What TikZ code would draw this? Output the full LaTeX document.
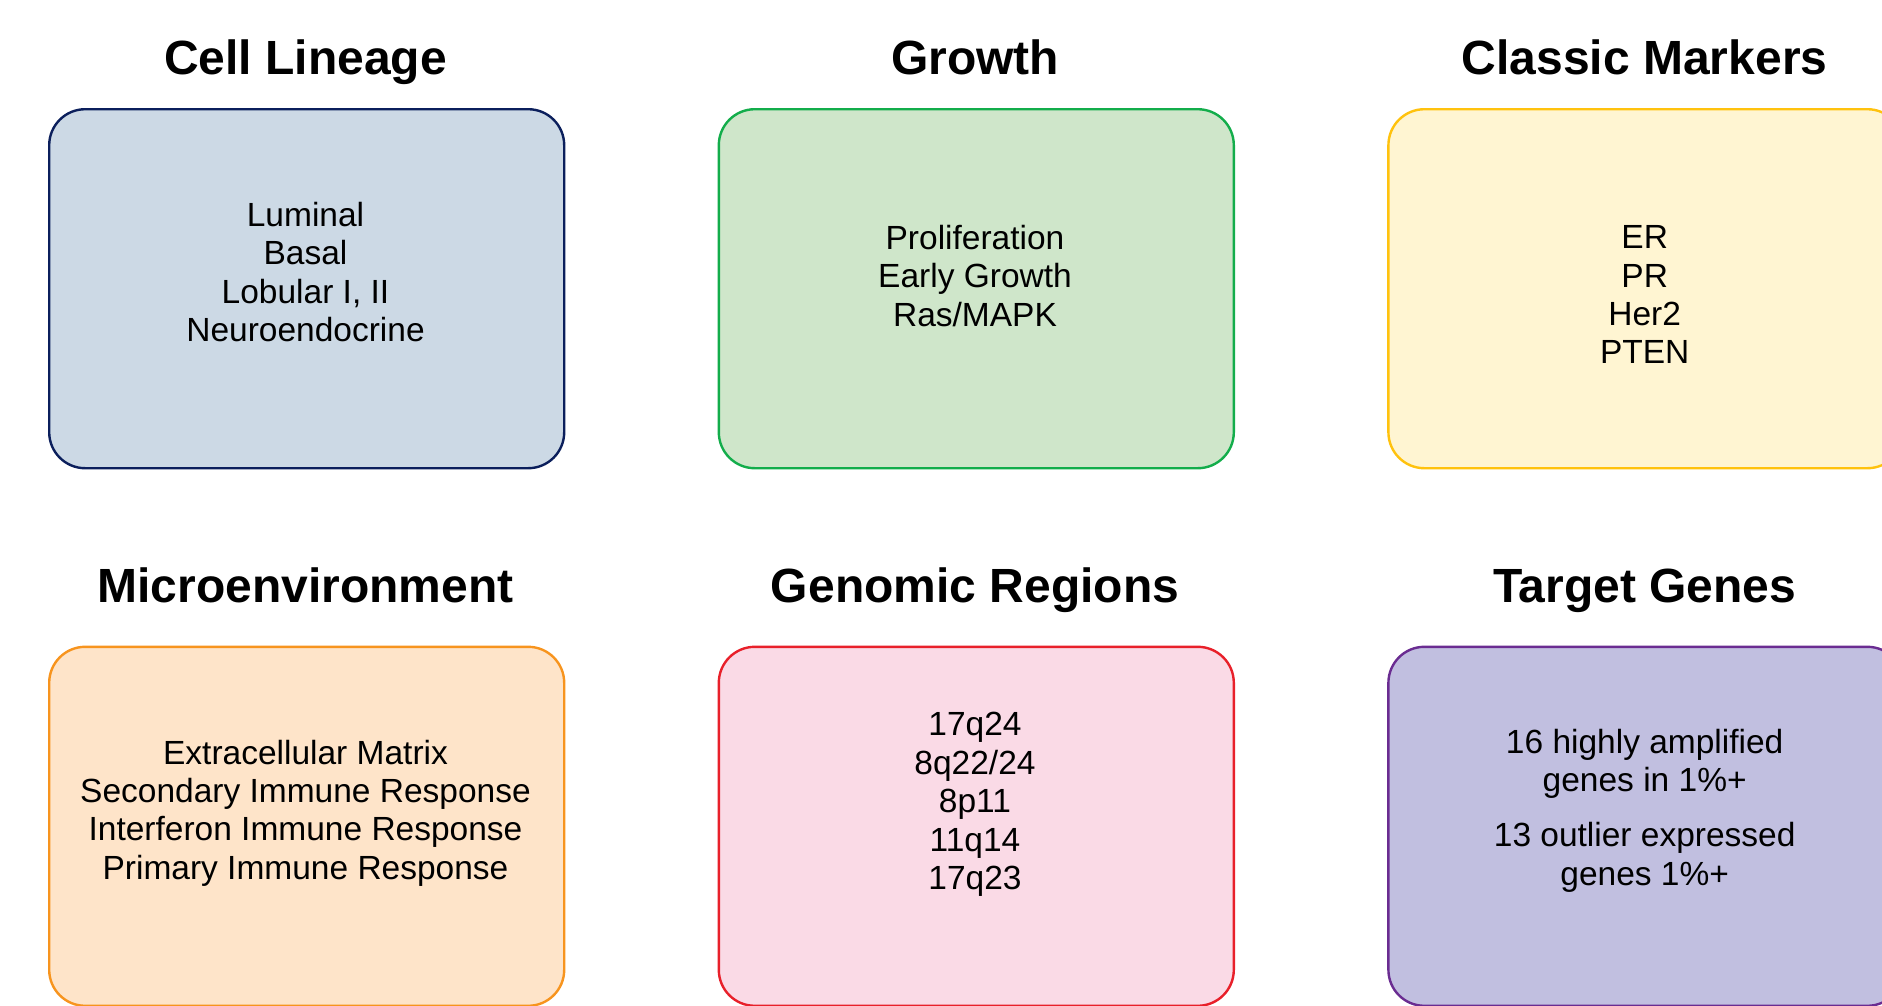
\documentclass[tikz,border=0pt]{standalone}
\usepackage{fontspec}
\setmainfont{Liberation Sans}
\begin{document}
\begin{tikzpicture}[x=1pt,y=-1pt,
  panel/.style={draw=#1, line width=2.4pt, rounded corners=36pt,
    minimum width=515pt, minimum height=359pt, inner sep=0pt, anchor=north west},
  heading/.style={font=\fontsize{48}{56}\selectfont\bfseries, anchor=base, inner sep=0pt},
  items/.style={font=\fontsize{33.5}{38.4}\selectfont, align=center, inner sep=0pt, anchor=center}]
  \definecolor{navyline}{HTML}{0B1F5C}\definecolor{navyfill}{HTML}{CCD9E5}
  \definecolor{greenline}{HTML}{13AD4B}\definecolor{greenfill}{HTML}{CFE6CA}
  \definecolor{goldline}{HTML}{FFC20E}\definecolor{goldfill}{HTML}{FFF5D2}
  \definecolor{orangeline}{HTML}{F7941E}\definecolor{orangefill}{HTML}{FEE4C9}
  \definecolor{redline}{HTML}{E8202A}\definecolor{redfill}{HTML}{FADAE6}
  \definecolor{purpleline}{HTML}{6A2C91}\definecolor{purplefill}{HTML}{C1BFE0}

  \useasboundingbox (0,0) rectangle (1882,1005);

  % top row
  \node[panel=navyline, fill=navyfill] (lineage) at (48,108) {};
  \node[panel=greenline, fill=greenfill] (growth) at (717.6,108) {};
  \node[panel=goldline, fill=goldfill] (markers) at (1387.2,108) {};
  \node[heading] (lineageT) at (305.5,74.5) {Cell Lineage};
  \node[heading] (growthT) at (975,74.5) {Growth};
  \node[heading] (markersT) at (1644.7,74.5) {Classic Markers};
  \node[items] (lineageL) at (305.5,272) {Luminal\\Basal\\Lobular I, II\\Neuroendocrine};
  \node[items] (growthL) at (975,276) {Proliferation\\Early Growth\\Ras/MAPK};
  \node[items] (markersL) at (1644.7,294.8) {ER\\PR\\Her2\\PTEN};

  % bottom row
  \node[panel=orangeline, fill=orangefill] (micro) at (48,645.6) {};
  \node[panel=redline, fill=redfill] (genomic) at (717.6,645.6) {};
  \node[panel=purpleline, fill=purplefill] (target) at (1387.2,645.6) {};
  \node[heading] (microT) at (305.5,602) {Microenvironment};
  \node[heading] (genomicT) at (975,602) {Genomic Regions};
  \node[heading] (targetT) at (1644.7,602) {Target Genes};
  \node[items] (microL) at (305.5,813) {Extracellular Matrix\\Secondary Immune Response\\Interferon Immune Response\\Primary Immune Response};
  \node[items] (genomicL) at (975,804.4) {17q24\\8q22/24\\8p11\\11q14\\17q23};
  \node[items] (targetL) at (1644.7,810.5) {16 highly amplified\\genes in 1\%+\\[17pt]13 outlier expressed\\genes 1\%+};
\end{tikzpicture}
\end{document}
